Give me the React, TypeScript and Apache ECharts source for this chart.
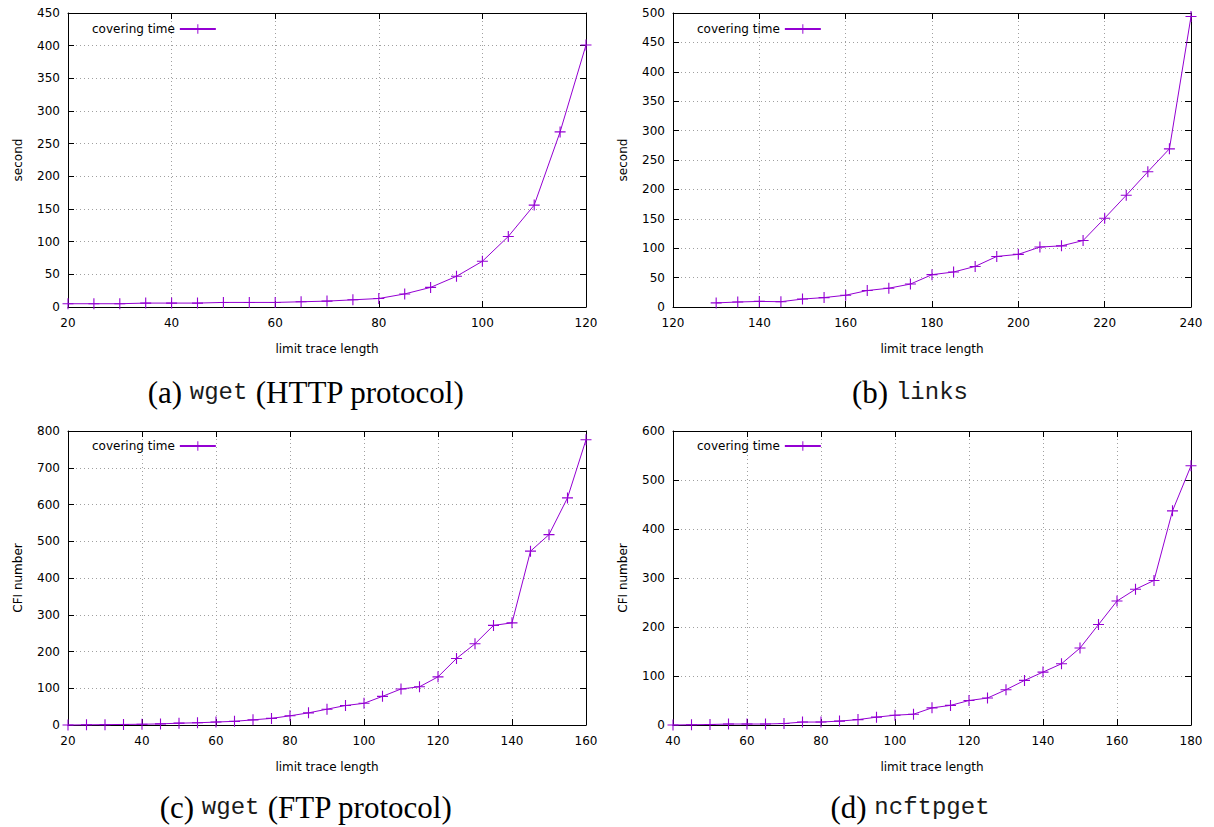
import React, { useEffect, useRef } from "react";
import * as echarts from "echarts";

// ---- data ----
const aX = [20, 25, 30, 35, 40, 45, 50, 55, 60, 65, 70, 75, 80, 85, 90, 95, 100, 105, 110, 115, 120];
const aY = [5, 5, 5, 6, 6, 6, 7, 7, 7, 8, 9, 11, 13, 20, 30, 47, 70, 108, 156, 268, 401];

const bX = [130, 135, 140, 145, 150, 155, 160, 165, 170, 175, 180, 185, 190, 195, 200, 205, 210, 215, 220, 225, 230, 235, 240];
const bY = [7, 8.5, 9.5, 9, 13.5, 16, 20, 28, 32, 39, 55, 59.5, 69, 86, 89.5, 102, 104, 113, 151, 190, 230, 269, 494];

const cX = [20, 25, 30, 35, 40, 45, 50, 55, 60, 65, 70, 75, 80, 85, 90, 95, 100, 105, 110, 115, 120, 125, 130, 135, 140, 145, 150, 155, 160];
const cY = [0, 0.5, 1, 1.5, 2, 3, 5, 6, 8, 10, 14, 18, 25, 33, 43, 53, 59, 78, 98, 104, 131, 181, 221, 271, 278, 473, 518, 618, 776];

const dX = [40, 45, 50, 55, 60, 65, 70, 75, 80, 85, 90, 95, 100, 105, 110, 115, 120, 125, 130, 135, 140, 145, 150, 155, 160, 165, 170, 175, 180];
const dY = [0, 0.5, 1, 2, 2, 2, 3, 6, 6, 8, 11, 16, 20, 22, 35, 40, 50, 55, 72, 91, 108, 125, 157, 205, 253, 277, 295, 437, 529];

const seriesName = "covering time";
const xName = "limit trace length";
const yNames = ["second", "second", "CFI number", "CFI number"];
const xRanges = [[20, 120], [120, 240], [20, 160], [40, 180]];
const yRanges = [[0, 450, 50], [0, 500, 50], [0, 800, 100], [0, 600, 100]];
const captions = [
  ["(a) ", "wget", " (HTTP protocol)"],
  ["(b) ", "links", ""],
  ["(c) ", "wget", " (FTP protocol)"],
  ["(d) ", "ncftpget", ""],
];

const FONT = "DejaVu Sans";
const PURPLE = "#9400d3";
const CROSS = "path://M5.4,0H6.6V5.4H12V6.6H6.6V12H5.4V6.6H0V5.4H5.4Z";

const layouts = [
  { left: 68, top: 13, legendLeft: 92, legendTop: 23, capX: 306, capY: 392 },
  { left: 673, top: 13, legendLeft: 697, legendTop: 23, capX: 910, capY: 392 },
  { left: 68, top: 431, legendLeft: 92, legendTop: 440, capX: 306, capY: 807 },
  { left: 673, top: 431, legendLeft: 697, legendTop: 440, capX: 910, capY: 807 },
];
const GW = 518;
const GH = 294;

export default function App() {
  const ref = useRef<HTMLDivElement>(null);
  useEffect(() => {
    if (!ref.current) return;
    const chart = echarts.init(ref.current, undefined, { renderer: "svg" });
    const xsAll = [aX, bX, cX, dX];
    const ysAll = [aY, bY, cY, dY];
    const grids: any[] = [];
    const xAxes: any[] = [];
    const yAxes: any[] = [];
    const series: any[] = [];
    const legends: any[] = [];
    const graphics: any[] = [];
    const black = { color: "#000", width: 1 };
    for (let i = 0; i < 4; i++) {
      const L = layouts[i];
      grids.push({ left: L.left, top: L.top, width: GW, height: GH, show: false });
      const [xmin, xmax] = xRanges[i];
      const [ymin, ymax, yint] = yRanges[i];
      xAxes.push({
        type: "value", gridIndex: i, position: "bottom", min: xmin, max: xmax, interval: 20,
        axisLine: { show: true, onZero: false, lineStyle: black },
        axisTick: { show: true, inside: true, length: 6, lineStyle: black },
        axisLabel: { color: "#000", fontSize: 12, fontFamily: FONT, margin: 10 },
        splitLine: { show: true, lineStyle: { type: [1, 3], color: "#a0a0a0", width: 1 } },
        name: xName, nameLocation: "middle", nameGap: 36,
        nameTextStyle: { color: "#000", fontSize: 12, fontFamily: FONT },
      });
      xAxes.push({
        type: "value", gridIndex: i, position: "top", min: xmin, max: xmax, interval: 20,
        axisLine: { show: true, onZero: false, lineStyle: black },
        axisTick: { show: true, inside: true, length: 6, lineStyle: black },
        axisLabel: { show: false }, splitLine: { show: false },
      });
      yAxes.push({
        type: "value", gridIndex: i, position: "left", min: ymin, max: ymax, interval: yint,
        axisLine: { show: true, onZero: false, lineStyle: black },
        axisTick: { show: true, inside: true, length: 6, lineStyle: black },
        axisLabel: { color: "#000", fontSize: 12, fontFamily: FONT, margin: 8 },
        splitLine: { show: true, lineStyle: { type: [1, 3], color: "#a0a0a0", width: 1 } },
        name: yNames[i], nameLocation: "middle", nameGap: 44, nameRotate: 90,
        nameTextStyle: { color: "#000", fontSize: 12, fontFamily: FONT },
      });
      yAxes.push({
        type: "value", gridIndex: i, position: "right", min: ymin, max: ymax, interval: yint,
        axisLine: { show: true, onZero: false, lineStyle: black },
        axisTick: { show: true, inside: true, length: 6, lineStyle: black },
        axisLabel: { show: false }, splitLine: { show: false },
      });
      series.push({
        type: "line", name: seriesName, xAxisIndex: 2 * i, yAxisIndex: 2 * i,
        data: xsAll[i].map((x, k) => [x, ysAll[i][k]]),
        symbol: CROSS, symbolSize: 11, showSymbol: true,
        lineStyle: { color: PURPLE, width: 1 },
        itemStyle: { color: PURPLE },
        clip: false,
      });
      legends.push({
        left: L.legendLeft, top: L.legendTop, data: [seriesName], align: "right",
        itemWidth: 36, itemHeight: 12, selectedMode: false, padding: 0,
        textStyle: { color: "#000", fontSize: 12, fontFamily: FONT },
      });
      const [p1, m, p2] = captions[i];
      graphics.push({
        type: "text", x: L.capX, y: L.capY,
        style: {
          text: `{s|${p1}}{m|${m}}` + (p2 ? `{s|${p2}}` : ""),
          rich: {
            s: { fontFamily: "Liberation Serif", fontSize: 31, fill: "#000", color: "#000" },
            m: { fontFamily: "Liberation Mono", fontSize: 24, fill: "#1a1a1a", color: "#1a1a1a" },
          },
          align: "center", textAlign: "center",
          verticalAlign: "middle", textVerticalAlign: "middle",
        },
      });
    }
    chart.setOption({
      animation: false,
      backgroundColor: "#fff",
      grid: grids,
      xAxis: xAxes,
      yAxis: yAxes,
      series,
      legend: legends,
      graphic: graphics,
    });
    return () => chart.dispose();
  }, []);
  return (
    <div
      ref={ref}
      style={{ position: "fixed", left: 0, top: 0, width: 1214, height: 827, background: "#fff" }}
    />
  );
}
